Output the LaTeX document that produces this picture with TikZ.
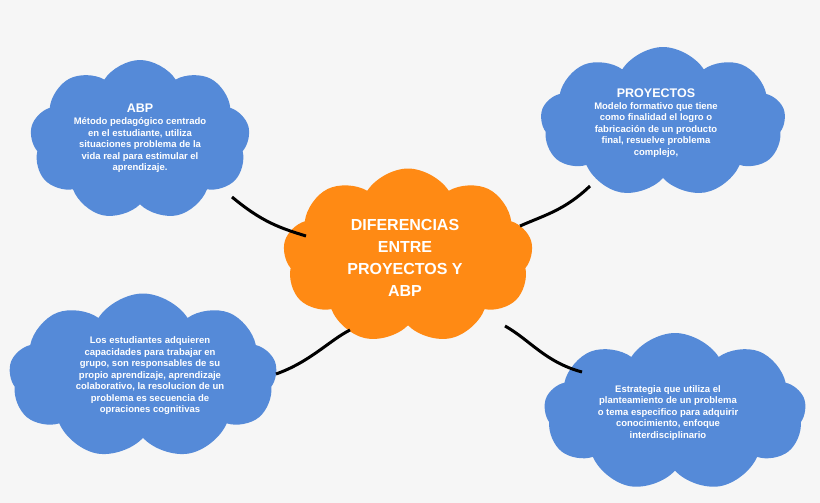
\documentclass[tikz,border=0pt]{standalone}
\usepackage{fontspec}
\setmainfont{Liberation Sans}
\usetikzlibrary{shapes.symbols}
\definecolor{bl}{HTML}{558AD8}
\definecolor{or}{HTML}{FF8A14}
\definecolor{bg}{HTML}{F6F6F6}
\begin{document}
\begin{tikzpicture}[x=1pt,y=-1pt,
 cl/.style={cloud,cloud puffs=9,cloud puff arc=115,aspect=1.4,inner sep=0pt,draw=none,fill=bl},
 tx/.style={text=white,align=center,font=\fontsize{9.5}{11.5}\selectfont\bfseries},
 link/.style={line width=3pt,black}]
\fill[bg] (0,0) rectangle (820,503);
\useasboundingbox (0,0) rectangle (820,503);
\node[cl,minimum width=220pt,minimum height=160pt] (abp) at (140,140) {};
\node[cl,minimum width=245pt,minimum height=150pt] (pro) at (663,122) {};
\node[cl,fill=or,minimum width=250pt,minimum height=175pt] (c) at (408,256) {};
\node[cl,minimum width=268pt,minimum height=165pt] (bl) at (143,376) {};
\node[cl,minimum width=262pt,minimum height=158pt] (br) at (675,412) {};
\coordinate (a1) at (232,197); \coordinate (a2) at (306,236);
\coordinate (p1) at (590,186); \coordinate (p2) at (520,226);
\coordinate (l1) at (276,374); \coordinate (l2) at (350,330);
\coordinate (r1) at (505,326); \coordinate (r2) at (582,372);
\draw[link] (a1) .. controls (262,222) and (280,228) .. (a2);
\draw[link] (p1) .. controls (565,210) and (545,215) .. (p2);
\draw[link] (l1) .. controls (310,362) and (330,340) .. (l2);
\draw[link] (r1) .. controls (530,340) and (545,362) .. (r2);
\node[tx] (ta) at (140,138) {{\fontsize{12.5}{15}\selectfont ABP}\\[1pt]Método pedagógico centrado\\en el estudiante, utiliza\\situaciones problema de la\\vida real para estimular el\\aprendizaje.};
\node[tx] (tp) at (656,123) {{\fontsize{12.5}{15}\selectfont PROYECTOS}\\Modelo formativo que tiene\\como finalidad el logro o\\fabricación de un producto\\final, resuelve problema\\complejo,};
\node[tx,font=\fontsize{16}{22}\selectfont\bfseries] (tc) at (405,258) {DIFERENCIAS\\ENTRE\\PROYECTOS Y\\ABP};
\node[tx] (tl) at (150,376) {Los estudiantes adquieren\\capacidades para trabajar en\\grupo, son responsables de su\\propio aprendizaje, aprendizaje\\colaborativo, la resolucion de un\\problema es secuencia de\\opraciones cognitivas};
\node[tx] (tr) at (668,413) {Estrategia que utiliza el\\planteamiento de un problema\\o tema especifico para adquirir\\conocimiento, enfoque\\interdisciplinario};
\end{tikzpicture}
\end{document}
